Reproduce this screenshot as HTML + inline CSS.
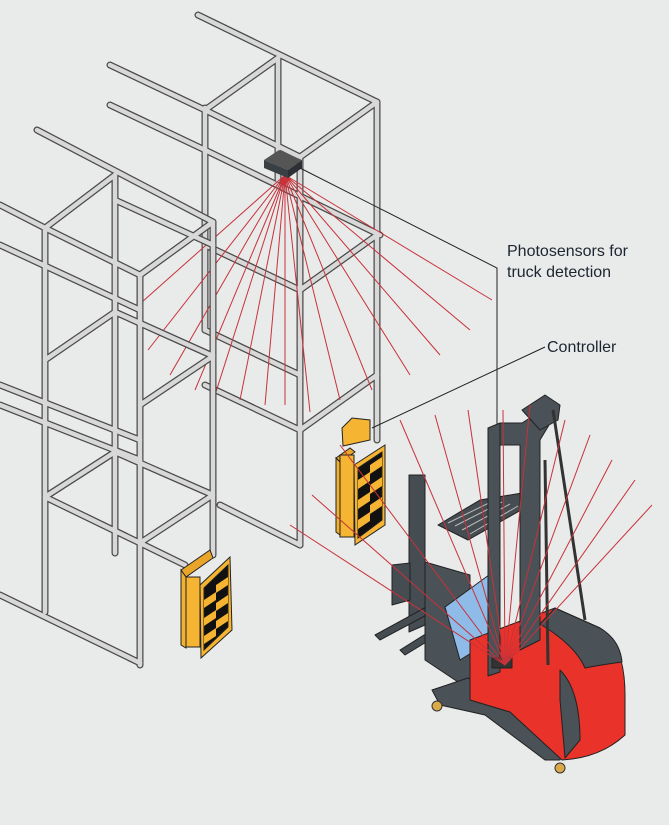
<!DOCTYPE html>
<html><head><meta charset="utf-8"><style>
html,body{margin:0;padding:0;background:#e9eaea;}
svg{display:block}
text{font-family:"Liberation Sans",sans-serif;font-size:16px;fill:#1c2530}
</style></head><body>
<svg width="669" height="825" viewBox="0 0 669 825" xmlns="http://www.w3.org/2000/svg">
<rect width="669" height="825" fill="#e9eaea"/>
<defs>
<g id="backrack">
 <path d="M198,15 L377,102 M110,65 L205,110 M110,105 L205,150 M205,110 L278,58 M377,102 L300,157 M205,110 L300,157 M205,150 L380,235"/>
 <path d="M205,108 L205,330 M278,58 L278,180 M300,157 L300,545 M377,102 L377,440"/>
 <path d="M377,235 L300,290 M205,245 L300,290 M377,375 L300,430 M205,385 L300,430 M205,330 L300,375 M300,545 L220,505"/>
</g>
<g id="frontrack">
 <path d="M37,130 L213,222 M0,205 L45,228 M45,228 L115,175 M213,222 L140,275 M45,228 L140,275"/>
 <path d="M0,245 L140,310 M0,385 L140,440 M0,405 L140,460 M0,595 L140,663 M115,200 L213,245"/>
 <path d="M45,228 L45,612 M115,175 L115,553 M140,275 L140,665 M213,222 L213,555"/>
 <path d="M45,497 L115,452 M213,495 L140,543 M45,360 L115,312 M213,356 L140,405 M115,452 L213,495 M115,312 L213,356 M140,543 L185,565 M45,497 L140,543"/>
</g>
</defs>
<g fill="none" stroke-linecap="round" stroke-linejoin="round">
 <use href="#backrack" stroke="#4a4a4a" stroke-width="7"/>
 <use href="#backrack" stroke="#d8d8d8" stroke-width="4.5"/>
</g>
<g stroke="#c8323a" stroke-width="1">
 <path d="M285,175 L133,310 M285,175 L148,350 M285,175 L170,375 M285,175 L195,390 M285,175 L215,395 M285,175 L240,400 M285,175 L265,405 M285,175 L285,405 M285,175 L310,412 M285,175 L340,400 M285,175 L372,390 M285,175 L410,375 M285,175 L440,355 M285,175 L470,330 M285,175 L492,300"/>
</g>
<g fill="none" stroke-linecap="round" stroke-linejoin="round">
 <use href="#frontrack" stroke="#4a4a4a" stroke-width="7"/>
 <use href="#frontrack" stroke="#d8d8d8" stroke-width="4.5"/>
</g>
<polygon points="264,160 279,150 302,160 288,170" fill="#555"/>
<polygon points="264,160 288,170 288,178 264,168" fill="#3a3f44"/>
<polygon points="288,170 302,160 302,168 288,178" fill="#2c3034"/>
<g stroke="#222" stroke-width="1" fill="none">
 <path d="M300,168 L497,268 L497,660 M545,347 L372,428"/>
</g>
<text x="507" y="256">Photosensors for</text>
<text x="507" y="277">truck detection</text>
<text x="547" y="352">Controller</text>
<g stroke="#222" stroke-width="1">
 <polygon points="181,570 210,550 213,558 186,577" fill="#e8a52a"/>
 <polygon points="181,570 186,577 186,648 181,645" fill="#f0b030"/>
 <rect x="186" y="577" width="14" height="70" fill="#f5b431"/>
 <polygon points="200,585 230,557 232,630 201,658" fill="#f5b431"/>
 <polygon points="204,588 228,565 228,627 204,650" fill="#111"/>
</g>
<g fill="#f5b431"><polygon points="204,600 216,592 216,600 204,608"/><polygon points="216,585 228,577 228,585 216,593"/><polygon points="204,618 216,610 216,618 204,626"/><polygon points="216,603 228,595 228,603 216,611"/><polygon points="204,636 216,628 216,636 204,644"/><polygon points="216,621 228,613 228,621 216,629"/></g>
<g stroke="#222" stroke-width="1">
 <polygon points="342,428 352,418 370,420 370,440 343,446" fill="#f5b431"/>
 <polygon points="336,458 350,448 355,452 340,462" fill="#e8a52a"/>
 <polygon points="336,458 340,462 340,535 336,532" fill="#f0b030"/>
 <rect x="340" y="455" width="14" height="82" fill="#f5b431"/>
 <polygon points="354,465 385,445 385,525 355,545" fill="#f5b431"/>
 <polygon points="358,468 382,452 382,520 358,538" fill="#111"/>
</g>
<g fill="#f5b431"><polygon points="358,480 370,472 370,481 358,489"/><polygon points="370,465 382,457 382,466 370,474"/><polygon points="358,500 370,492 370,501 358,509"/><polygon points="370,485 382,477 382,486 370,494"/><polygon points="358,520 370,512 370,521 358,529"/><polygon points="370,505 382,497 382,506 370,514"/></g>
<!-- truck -->
<g stroke="#222" stroke-width="1" stroke-linejoin="round">
 <!-- platform grid -->
 <polygon points="438,525 480,500 528,492 530,505 468,540" fill="#454c52"/>
 <g stroke="#bbb" stroke-width="1"><path d="M448,523 L495,500 M455,526 L502,502 M462,530 L510,504 M470,534 L518,506"/></g>
 <!-- left mast & forks -->
 <polygon points="409,475 425,475 425,625 409,632" fill="#454c52"/>
 <polygon points="392,565 410,563 410,600 392,605" fill="#454c52"/>
 <polygon points="375,635 430,605 436,610 380,640" fill="#454c52"/>
 <polygon points="400,650 440,625 446,630 405,655" fill="#454c52"/>
 <polygon points="425,562 470,575 470,690 425,660" fill="#4a5157"/>
 <polygon points="445,607 489,575 492,640 460,660" fill="#8fbbe8"/>
 <!-- lower gray base -->
 <path d="M432,690 L468,678 L510,700 L565,745 L560,760 L545,760 L485,715 L440,705 Z" fill="#4a5157"/>
 <!-- red body -->
 <path d="M470,640 L555,608 L600,628 Q626,645 625,700 L625,735 Q600,758 562,760 L510,712 L470,700 Z" fill="#e9332a"/>
 <path d="M540,624 L555,608 L600,628 Q620,640 622,662 Q600,665 585,668 Q575,645 540,624 Z" fill="#4a5157"/>
 <path d="M560,670 Q580,690 580,740 L565,758 L560,700 Z" fill="#4a5157"/>
 <!-- main mast -->
 <polygon points="488,428 500,423 500,672 488,676" fill="#4a5157"/>
 <polygon points="500,423 522,423 550,405 552,420 540,440 540,640 520,650 520,445 500,445" fill="#4a5157"/>
 <polygon points="522,410 545,395 560,405 558,420 540,430" fill="#4a5157"/>
 <rect x="492" y="658" width="20" height="10" fill="#333"/>
</g>
<g stroke="#333" stroke-width="3"><path d="M553,410 L585,620 M545,460 L548,665"/></g>
<g stroke="#c8323a" stroke-width="1">
 <path d="M505,665 L312,495 M505,665 L290,525 M505,665 L340,445 M505,665 L400,420 M505,665 L435,415 M505,665 L468,410 M505,665 L503,410 M505,665 L530,405 M505,665 L565,420 M505,665 L590,435 M505,665 L612,460 M505,665 L635,480 M505,665 L652,505"/>
</g>
<circle cx="437" cy="706" r="5" fill="#d9a94a" stroke="#333"/>
<circle cx="560" cy="768" r="5" fill="#d9a94a" stroke="#333"/>
</svg>
</body></html>
